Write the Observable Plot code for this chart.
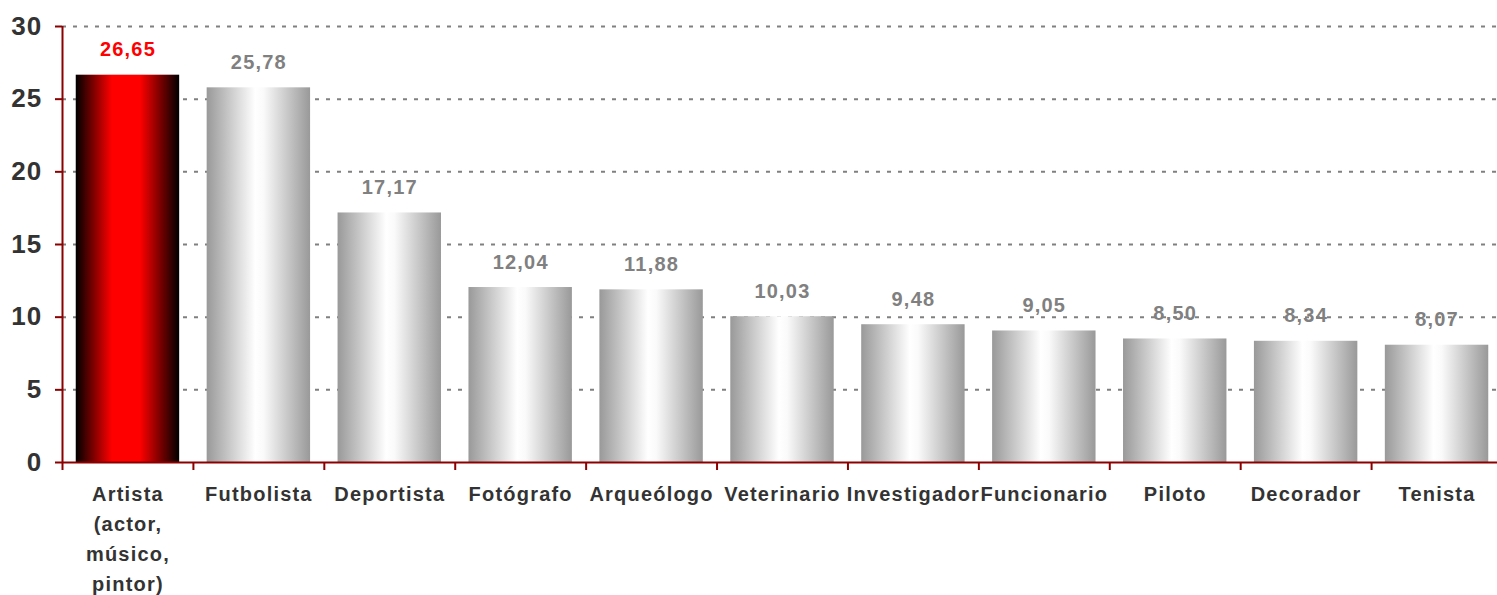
<!DOCTYPE html>
<html>
<head>
<meta charset="utf-8">
<script src="https://cdn.jsdelivr.net/npm/d3@7"></script>
<script src="https://cdn.jsdelivr.net/npm/@observablehq/plot@0.6"></script>
<style>
  html, body { margin: 0; padding: 0; background: #fff; overflow: hidden; }
</style>
</head>
<body>
<div id="chart"></div>
<script>
const categories = ["Artista\n(actor,\nmúsico,\npintor)", "Futbolista", "Deportista", "Fotógrafo", "Arqueólogo", "Veterinario", "Investigador", "Funcionario", "Piloto", "Decorador", "Tenista"];
const values = [26.65, 25.78, 17.17, 12.04, 11.88, 10.03, 9.48, 9.05, 8.50, 8.34, 8.07];
const highlighted = ["Artista\n(actor,\nmúsico,\npintor)"];
const yTicks = [0, 5, 10, 15, 20, 25, 30];

const data = categories.map((c, i) => ({cat: c, value: values[i], hl: highlighted.includes(c)}));

const W = 1497, H = 595;
const mL = 62, mR = -5, mT = 26, mB = 133;
const pInner = 0.21, pOuter = 0.105;
const step = (W - mR - mL) / (categories.length - pInner + 2 * pOuter);
const axisRed = "#8B0000";
const fmt = v => v.toFixed(2).replace(".", ",");

const chart = Plot.plot({
  width: W,
  height: H,
  marginLeft: mL,
  marginRight: mR,
  marginTop: mT,
  marginBottom: mB,
  style: {fontFamily: "'Liberation Sans', Arial, sans-serif", fontWeight: "bold", background: "#fff", overflow: "visible"},
  x: {domain: categories, paddingInner: pInner, paddingOuter: pOuter, round: false, axis: null},
  y: {domain: [0, 30], axis: null},
  marks: [
    Plot.gridY(yTicks.filter(t => t > 0), {stroke: "#808080", strokeOpacity: 1, strokeWidth: 2, strokeDasharray: "4,7"}),
    Plot.axisY(yTicks, {label: null, tickSize: 7, tickPadding: 13, stroke: axisRed, strokeWidth: 2, fill: "#333", fontSize: 26, fontWeight: "bold"}),
    Plot.barY(data.filter(d => !d.hl), {x: "cat", y: "value", fill: "url(#grayGrad)"}),
    Plot.barY(data.filter(d => d.hl), {x: "cat", y: "value", fill: "url(#redGrad)"}),
    Plot.text(data, {x: "cat", y: "value", text: d => fmt(d.value), lineAnchor: "bottom", dy: -19, fontSize: 20, fontWeight: "bold", fill: d => d.hl ? "#FF0000" : "#808080"}),
    Plot.ruleY([0], {stroke: axisRed, strokeWidth: 2}),
    Plot.ruleX([categories[0]], {x: d => d, dx: -step / 2, y1: 0, y2: 30, stroke: axisRed, strokeWidth: 2}),
    Plot.ruleX(categories, {x: d => d, dx: -step / 2, y1: 0, y2: 0, insetBottom: -8, stroke: axisRed, strokeWidth: 2}),
    Plot.text(categories, {x: d => d, text: d => d, frameAnchor: "bottom", lineAnchor: "top", dy: 17, fontSize: 20, fontWeight: "bold", fill: "#333", lineHeight: 1.5})
  ]
});

const svg = d3.select(chart);
const defs = svg.insert("defs", ":first-child");
const g1 = defs.append("linearGradient").attr("id", "grayGrad").attr("x1", "0").attr("x2", "1").attr("y1", "0").attr("y2", "0");
[[0, "#999999"], [0.47, "#ffffff"], [0.55, "#fafafa"], [1, "#999999"]].forEach(([o, c]) => g1.append("stop").attr("offset", o).attr("stop-color", c));
const g2 = defs.append("linearGradient").attr("id", "redGrad").attr("x1", "0").attr("x2", "1").attr("y1", "0").attr("y2", "0");
[[0, "#000000"], [0.35, "#ff0000"], [0.62, "#ff0000"], [1, "#000000"]].forEach(([o, c]) => g2.append("stop").attr("offset", o).attr("stop-color", c));
svg.selectAll("text").style("letter-spacing", "1.2px");

document.getElementById("chart").appendChild(chart);
</script>
</body>
</html>
